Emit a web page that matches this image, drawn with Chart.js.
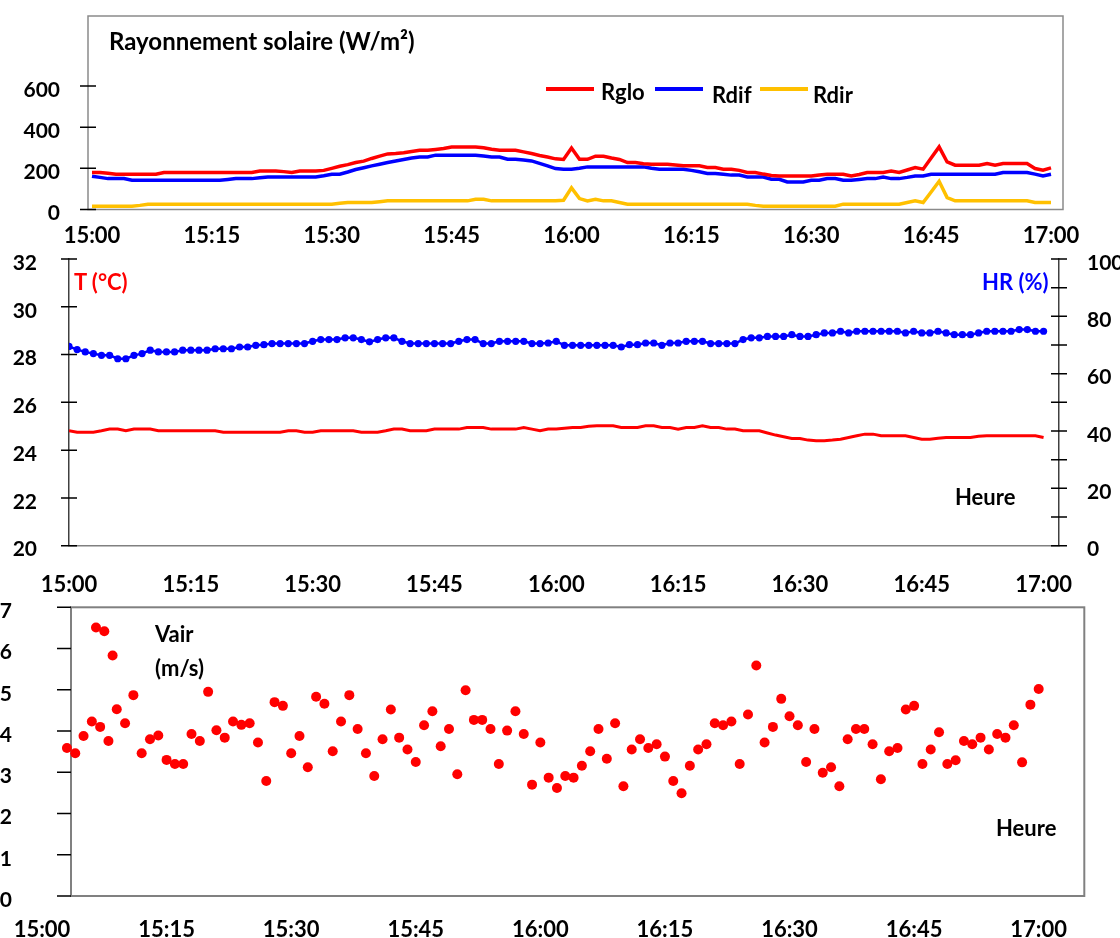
<!DOCTYPE html>
<html lang="fr">
<head>
<meta charset="UTF-8">
<title>Rayonnement solaire, T, HR et vitesse de l'air</title>
<script src="https://cdn.jsdelivr.net/npm/chart.js"></script>
<style>
  body { margin: 0; background: #fff; overflow: hidden; }
  #page { position: relative; width: 1120px; height: 938px; }
  .panel { position: absolute; left: 0; }
  .lbl { position: absolute; font: bold 22px/24px Lato, sans-serif; color: #000; white-space: nowrap; }
  .key { position: absolute; width: 48px; height: 4px; }
</style>
</head>
<body>
<div id="page">
  <canvas class="panel" id="ray" width="1120" height="250" style="top:0"></canvas>
  <canvas class="panel" id="thr" width="1120" height="355" style="top:240px"></canvas>
  <canvas class="panel" id="vent" width="1120" height="348" style="top:590px"></canvas>

  <div class="lbl" style="left:109px;top:29px;font-size:24px">Rayonnement solaire (W/m²)</div>
  <div class="key" style="left:546px;top:87px;background:#ff0000"></div>
  <div class="lbl" style="left:601px;top:80px">Rglo</div>
  <div class="key" style="left:655px;top:87px;background:#0000ff"></div>
  <div class="lbl" style="left:712px;top:83px">Rdif</div>
  <div class="key" style="left:760px;top:87px;background:#ffc000"></div>
  <div class="lbl" style="left:813px;top:83px">Rdir</div>

  <div class="lbl" style="left:74px;top:270px;color:#ff0000">T (°C)</div>
  <div class="lbl" style="left:982px;top:270px;color:#0000ff">HR (%)</div>
  <div class="lbl" style="left:955px;top:485px">Heure</div>

  <div class="lbl" style="left:155px;top:622px">Vair</div>
  <div class="lbl" style="left:155px;top:656px">(m/s)</div>
  <div class="lbl" style="left:996px;top:816px">Heure</div>
</div>
<script>
// axe du temps (minutes depuis 15:00)
const timeTicks = [0, 15, 30, 45, 60, 75, 90, 105, 120];
const timeLabels = ['15:00', '15:15', '15:30', '15:45', '16:00', '16:15', '16:30', '16:45', '17:00'];

// rayonnement solaire (W/m²), une mesure par minute
const rglo = [
  180, 180, 176, 171, 171, 171, 171, 171, 171, 180,
  180, 180, 180, 180, 180, 180, 180, 180, 180, 180,
  180, 187, 187, 187, 184, 180, 187, 187, 187, 190,
  200, 210, 218, 228, 235, 248, 259, 270, 272, 276,
  282, 288, 288, 292, 296, 304, 304, 304, 304, 300,
  293, 288, 288, 288, 280, 272, 262, 255, 246, 243,
  299, 244, 244, 259, 259, 250, 243, 228, 228, 222,
  220, 220, 220, 216, 212, 212, 212, 204, 204, 196,
  196, 190, 180, 180, 172, 165, 163, 163, 163, 163,
  163, 168, 171, 171, 171, 163, 170, 180, 180, 180,
  187, 180, 192, 204, 196, 250, 304, 231, 215, 215,
  215, 215, 223, 215, 223, 223, 223, 223, 199, 191,
  202
];
const rdif = [
  162, 156, 150, 150, 150, 142, 142, 142, 142, 142,
  142, 142, 142, 142, 142, 142, 142, 146, 150, 150,
  150, 154, 158, 158, 158, 158, 158, 158, 158, 164,
  171, 171, 182, 194, 203, 212, 220, 228, 236, 243,
  250, 255, 255, 264, 264, 264, 264, 264, 264, 260,
  255, 255, 244, 244, 240, 236, 224, 212, 199, 196,
  196, 200, 207, 207, 207, 207, 207, 207, 207, 207,
  200, 196, 196, 196, 196, 190, 183, 175, 175, 171,
  167, 167, 158, 158, 158, 147, 147, 134, 134, 134,
  142, 142, 150, 150, 142, 142, 146, 150, 150, 158,
  150, 150, 156, 163, 163, 171, 171, 171, 171, 171,
  171, 171, 171, 171, 180, 180, 180, 180, 172, 163,
  171
];
const rdir = [
  16, 16, 16, 16, 16, 16, 20, 26, 26, 26,
  26, 26, 26, 26, 26, 26, 26, 26, 26, 26,
  26, 26, 26, 26, 26, 26, 26, 26, 26, 26,
  26, 30, 34, 34, 34, 34, 38, 42, 42, 42,
  42, 42, 42, 42, 42, 42, 42, 42, 50, 50,
  42, 42, 42, 42, 42, 42, 42, 42, 42, 45,
  105, 53, 42, 50, 42, 42, 34, 26, 26, 26,
  26, 26, 26, 26, 26, 26, 26, 26, 26, 26,
  26, 26, 26, 20, 16, 16, 16, 16, 16, 16,
  16, 16, 16, 16, 26, 26, 26, 26, 26, 26,
  26, 26, 34, 42, 34, 85, 137, 58, 42, 42,
  42, 42, 42, 42, 42, 42, 42, 42, 34, 34,
  34
];

// température (°C) et humidité relative (%)
const temp = [
  24.81, 24.75, 24.75, 24.75, 24.81, 24.88, 24.88, 24.81, 24.88, 24.88,
  24.88, 24.81, 24.81, 24.81, 24.81, 24.81, 24.81, 24.81, 24.81, 24.75,
  24.75, 24.75, 24.75, 24.75, 24.75, 24.75, 24.75, 24.81, 24.81, 24.75,
  24.75, 24.81, 24.81, 24.81, 24.81, 24.81, 24.75, 24.75, 24.75, 24.81,
  24.88, 24.88, 24.81, 24.81, 24.81, 24.88, 24.88, 24.88, 24.88, 24.95,
  24.95, 24.95, 24.88, 24.88, 24.88, 24.88, 24.95, 24.88, 24.81, 24.88,
  24.88, 24.92, 24.95, 24.95, 25.00, 25.02, 25.02, 25.02, 24.95, 24.95,
  24.95, 25.02, 25.02, 24.95, 24.95, 24.88, 24.95, 24.95, 25.02, 24.95,
  24.95, 24.88, 24.88, 24.81, 24.81, 24.81, 24.72, 24.63, 24.56, 24.49,
  24.49, 24.42, 24.39, 24.39, 24.42, 24.46, 24.53, 24.60, 24.67, 24.67,
  24.60, 24.60, 24.60, 24.60, 24.53, 24.46, 24.46, 24.50, 24.53, 24.53,
  24.53, 24.53, 24.58, 24.60, 24.60, 24.60, 24.60, 24.60, 24.60, 24.60,
  24.53
];
const hr = [
  69.5, 68.4, 67.6, 67.0, 66.4, 66.4, 65.2, 65.2, 66.4, 67.0,
  68.2, 67.6, 67.6, 67.6, 68.2, 68.2, 68.2, 68.2, 68.7, 68.7,
  68.7, 69.3, 69.3, 69.9, 70.1, 70.5, 70.5, 70.5, 70.5, 70.5,
  71.3, 71.9, 71.9, 71.9, 72.5, 72.5, 71.9, 71.1, 71.9, 72.5,
  72.5, 71.3, 70.5, 70.5, 70.5, 70.5, 70.5, 70.5, 71.3, 71.9,
  71.9, 70.5, 70.5, 71.3, 71.3, 71.3, 71.3, 70.5, 70.5, 70.7,
  71.3, 69.9, 69.9, 69.9, 69.9, 69.9, 69.9, 69.9, 69.3, 70.1,
  70.1, 70.7, 70.7, 69.9, 70.7, 70.7, 71.3, 71.3, 71.3, 70.5,
  70.5, 70.5, 70.5, 71.9, 72.5, 72.5, 73.0, 73.0, 73.0, 73.6,
  73.0, 73.0, 73.6, 74.2, 74.2, 74.8, 74.2, 74.8, 74.8, 74.8,
  74.8, 74.8, 74.8, 74.2, 74.8, 74.2, 74.2, 74.8, 74.2, 73.6,
  73.6, 73.6, 74.2, 74.8, 74.8, 74.8, 74.8, 75.4, 75.4, 74.8,
  74.8
];

// vitesse de l'air (m/s) et instants de mesure (minutes depuis 15:00)
const vairTime = [3, 4, 5, 6, 6.5, 7, 7.5, 8, 8.5, 9].concat(Array.from({ length: 111 }, (_, i) => 10 + i));
const vair = [
  3.59, 3.46, 3.88, 4.23, 6.51, 4.10, 6.42, 3.76, 5.83, 4.53,
  4.19, 4.87, 3.46, 3.80, 3.89, 3.30, 3.20, 3.20, 3.93, 3.76,
  4.95, 4.02, 3.84, 4.23, 4.15, 4.19, 3.72, 2.79, 4.70, 4.61,
  3.46, 3.88, 3.12, 4.83, 4.66, 3.51, 4.23, 4.87, 4.05, 3.46,
  2.91, 3.80, 4.52, 3.84, 3.55, 3.25, 4.14, 4.48, 3.63, 4.05,
  2.95, 4.99, 4.27, 4.27, 4.05, 3.20, 4.01, 4.48, 3.93, 2.70,
  3.72, 2.87, 2.62, 2.91, 2.87, 3.16, 3.51, 4.05, 3.33, 4.19,
  2.66, 3.55, 3.80, 3.59, 3.68, 3.38, 2.79, 2.49, 3.16, 3.55,
  3.68, 4.19, 4.14, 4.23, 3.20, 4.40, 5.59, 3.72, 4.10, 4.78,
  4.36, 4.14, 3.25, 4.05, 2.99, 3.12, 2.66, 3.80, 4.05, 4.05,
  3.68, 2.83, 3.51, 3.59, 4.52, 4.61, 3.20, 3.55, 3.97, 3.20,
  3.29, 3.76, 3.68, 3.84, 3.55, 3.93, 3.84, 4.14, 3.24, 4.64,
  5.02
];

const radTicks = [0, 200, 400, 600];
const tTicks = [20, 22, 24, 26, 28, 30, 32];
const hrTicks = [0, 20, 40, 60, 80, 100];
const hrMarks = [0, 10, 20, 30, 40, 50, 60, 70, 80, 90, 100];
const vairTicks = [0, 1, 2, 3, 4, 5, 6, 7];

Chart.defaults.font.family = 'Lato';
const yFont = { family: 'Lato', size: 21, weight: 'bold' };
const xFont = { family: 'Lato', size: 22, weight: 'bold' };

const perMinute = arr => arr.map((v, i) => ({ x: i, y: v }));
const timeLabel = v => timeLabels[timeTicks.indexOf(v)];

// petites marques de graduation tracées à la main
function axisMarks(scaleId, values, inside, outside) {
  return {
    id: 'marks_' + scaleId,
    afterDatasetsDraw(chart) {
      const s = chart.scales[scaleId];
      const ctx = chart.ctx;
      const left = s.position === 'left';
      const x0 = left ? s.right : s.left;
      ctx.save();
      ctx.strokeStyle = '#000';
      ctx.lineWidth = 1.5;
      ctx.beginPath();
      values.forEach(v => {
        const y = s.getPixelForValue(v);
        ctx.moveTo(left ? x0 - outside : x0 + outside, y);
        ctx.lineTo(left ? x0 + inside : x0 - inside, y);
      });
      ctx.stroke();
      ctx.restore();
    }
  };
}

function frame(color, width) {
  return {
    id: 'frame',
    beforeDatasetsDraw(chart) {
      const a = chart.chartArea;
      const ctx = chart.ctx;
      ctx.save();
      ctx.strokeStyle = color;
      ctx.lineWidth = width;
      ctx.strokeRect(a.left, a.top, a.right - a.left, a.bottom - a.top);
      ctx.restore();
    }
  };
}

function timeAxis(min, max, height, padding, border) {
  return {
    type: 'linear', min: min, max: max,
    afterBuildTicks: a => { a.ticks = timeTicks.map(v => ({ value: v })); },
    afterFit: a => { a.height = height; a.paddingLeft = 0; a.paddingRight = 0; },
    grid: { display: false },
    border: border,
    ticks: { autoSkip: false, maxRotation: 0, padding: padding, color: '#000', font: xFont, callback: timeLabel }
  };
}

function valueAxis(position, min, max, ticks, width, padding, border) {
  return {
    position: position, min: min, max: max,
    afterBuildTicks: a => { a.ticks = ticks.map(v => ({ value: v })); },
    afterFit: a => { a.width = width; a.paddingTop = 0; a.paddingBottom = 0; },
    grid: { display: false },
    border: border,
    ticks: { padding: padding, labelOffset: 4, color: '#000', font: yFont }
  };
}

const common = {
  responsive: false,
  animation: false,
  plugins: { legend: { display: false }, tooltip: { enabled: false } }
};

// 1) rayonnement solaire
new Chart(document.getElementById('ray'), {
  type: 'line',
  data: {
    datasets: [
      { label: 'Rglo', data: perMinute(rglo), borderColor: '#ff0000', borderWidth: 3.5, pointRadius: 0 },
      { label: 'Rdif', data: perMinute(rdif), borderColor: '#0000ff', borderWidth: 3.5, pointRadius: 0 },
      { label: 'Rdir', data: perMinute(rdir), borderColor: '#ffc000', borderWidth: 3.5, pointRadius: 0 }
    ]
  },
  options: {
    ...common,
    layout: { padding: { top: 16, right: 57, left: 0, bottom: 0 } },
    scales: {
      x: timeAxis(-0.5, 121.5, 40.5, 5, { display: false }),
      y: valueAxis('left', 0, 940, radTicks, 88, 20, { display: false })
    }
  },
  plugins: [frame('#8a8a8a', 1.5), axisMarks('y', radTicks, 8, 8)]
});

// 2) température et humidité relative
new Chart(document.getElementById('thr'), {
  type: 'line',
  data: {
    datasets: [
      { label: 'T (°C)', data: perMinute(temp), yAxisID: 'y', borderColor: '#ff0000', borderWidth: 3, pointRadius: 0 },
      { label: 'HR (%)', data: perMinute(hr), yAxisID: 'y2', borderColor: '#0000ff', borderWidth: 2.5,
        pointRadius: 3.6, pointBorderWidth: 0, pointBackgroundColor: '#0000ff' }
    ]
  },
  options: {
    ...common,
    layout: { padding: { top: 19, right: 0, left: 0, bottom: 0 } },
    scales: {
      x: timeAxis(0, 121.9, 49.3, 18, { display: true, color: '#808080', width: 1.5 }),
      y: valueAxis('left', 20, 32, tTicks, 69, 24, { display: true, color: '#404040', width: 1.5 }),
      y2: valueAxis('right', 0, 100, hrTicks, 61, 20, { display: true, color: '#404040', width: 1.5 })
    }
  },
  plugins: [axisMarks('y', tTicks, 8, 8), axisMarks('y2', hrMarks, 8, 8)]
});

// 3) vitesse de l'air
new Chart(document.getElementById('vent'), {
  type: 'scatter',
  data: {
    datasets: [
      { label: 'Vair (m/s)', data: vair.map((v, i) => ({ x: vairTime[i], y: v })),
        pointRadius: 5, pointBorderWidth: 0, pointBackgroundColor: '#ff0000', clip: false }
    ]
  },
  options: {
    ...common,
    layout: { padding: { top: 17.3, right: 35.7, left: 0, bottom: 0 } },
    scales: {
      x: timeAxis(3.49, 125.49, 42, 13, { display: false }),
      y: valueAxis('left', 0, 7, vairTicks, 71, 51, { display: false })
    }
  },
  plugins: [frame('#808080', 2), axisMarks('y', vairTicks, 0, 14)]
});
</script>
</body>
</html>
